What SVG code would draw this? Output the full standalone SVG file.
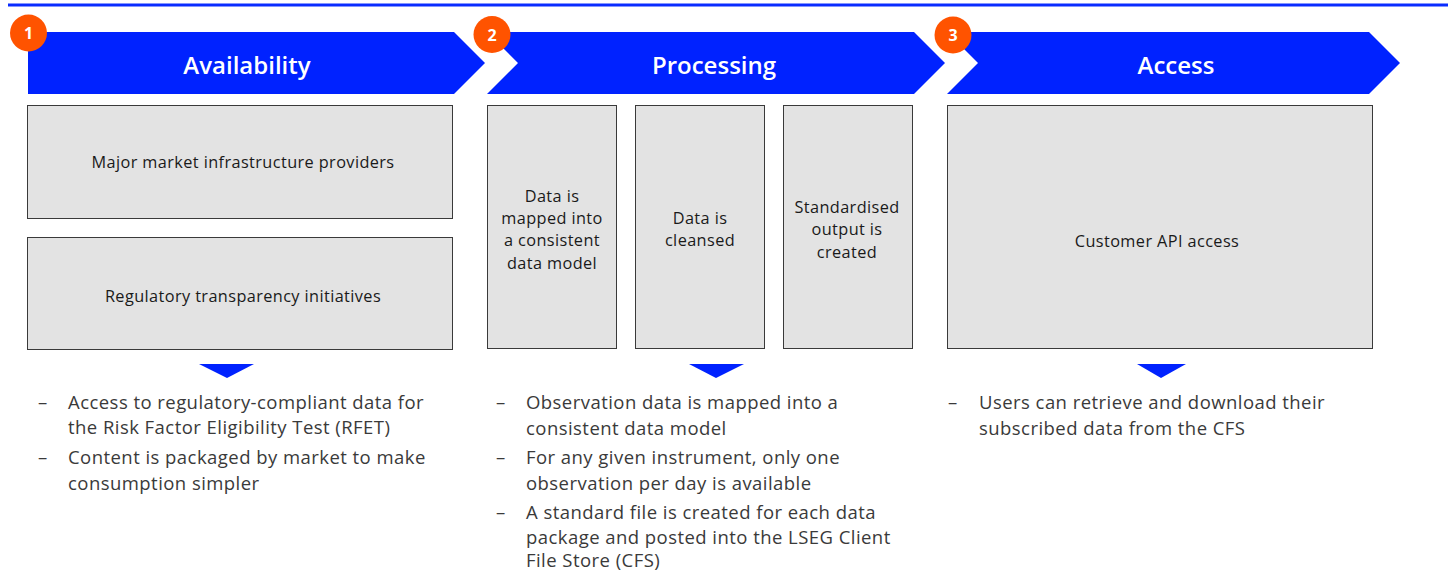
<svg xmlns="http://www.w3.org/2000/svg" width="1448" height="572" viewBox="0 0 1448 572">
<style>
.chev{fill:#0022ff}
.badge{fill:#ff5300}
.num{font-family:"Open Sans",Lato,sans-serif;font-weight:bold;font-size:16px;fill:#fff;text-anchor:middle}
.title{font-family:"Open Sans",Lato,sans-serif;font-weight:600;font-size:24px;fill:#fff;text-anchor:middle}
.box{fill:#e3e3e3;stroke:#3a3a3a;stroke-width:1}
.bt{font-family:"Open Sans",Lato,sans-serif;font-size:16.3px;letter-spacing:0.4px;fill:#1a1a1a;text-anchor:middle}
.tri{fill:#0022ff}
.bl{font-family:"Open Sans",Lato,sans-serif;font-size:18.5px;letter-spacing:0.45px;fill:#3a3a3a}
</style>
<rect x="8" y="3.5" width="1440" height="3" fill="#0a2cff"/>
<g id="stage1">
<polygon class="chev" points="28,32 454,32 485,63 454,94 28,94"/>
<text class="title" x="247" y="74">Availability</text>
<circle class="badge" cx="28.5" cy="33" r="18.5"/>
<text class="num" x="28.5" y="39">1</text>
</g>
<g id="stage2">
<polygon class="chev" points="487,32 914,32 945,63 914,94 487,94 518,63"/>
<text class="title" x="714" y="74">Processing</text>
<circle class="badge" cx="492" cy="34.5" r="18.5"/>
<text class="num" x="492" y="40.5">2</text>
</g>
<g id="stage3">
<polygon class="chev" points="947,32 1369,32 1400,63 1369,94 947,94 978,63"/>
<text class="title" x="1176" y="74">Access</text>
<circle class="badge" cx="953" cy="35" r="18.5"/>
<text class="num" x="953" y="41">3</text>
</g>
<g id="box-major">
<rect class="box" x="27.5" y="105.5" width="425" height="113"/>
<text class="bt" x="243" y="168">Major market infrastructure providers</text>
</g>
<g id="box-regulatory">
<rect class="box" x="27.5" y="237.5" width="425" height="112"/>
<text class="bt" x="243" y="302">Regulatory transparency initiatives</text>
</g>
<g id="box-mapped">
<rect class="box" x="487.5" y="105.5" width="129" height="243"/>
<text class="bt" x="552"><tspan x="552" y="202">Data is</tspan><tspan x="552" y="224">mapped into</tspan><tspan x="552" y="246">a consistent</tspan><tspan x="552" y="269">data model</tspan></text>
</g>
<g id="box-cleansed">
<rect class="box" x="635.5" y="105.5" width="129" height="243"/>
<text class="bt" x="700"><tspan x="700" y="224">Data is</tspan><tspan x="700" y="246">cleansed</tspan></text>
</g>
<g id="box-output">
<rect class="box" x="783.5" y="105.5" width="129" height="243"/>
<text class="bt" x="847"><tspan x="847" y="213">Standardised</tspan><tspan x="847" y="235">output is</tspan><tspan x="847" y="258">created</tspan></text>
</g>
<g id="box-api">
<rect class="box" x="947.5" y="105.5" width="425" height="243"/>
<text class="bt" x="1157" y="247">Customer API access</text>
</g>
<g id="connectors">
<polygon class="tri" points="199,364 254,364 227,378"/>
<polygon class="tri" points="689,364 744,364 716,378"/>
<polygon class="tri" points="1137,364 1186,364 1161,378"/>
</g>
<g id="notes1" class="bl">
<text x="38" y="409">–</text><text x="68" y="409">Access to regulatory-compliant data for</text>
<text x="68" y="434">the Risk Factor Eligibility Test (RFET)</text>
<text x="38" y="464">–</text><text x="68" y="464">Content is packaged by market to make</text>
<text x="68" y="490">consumption simpler</text>
</g>
<g id="notes2" class="bl">
<text x="496" y="409">–</text><text x="526" y="409">Observation data is mapped into a</text>
<text x="526" y="435">consistent data model</text>
<text x="496" y="464">–</text><text x="526" y="464">For any given instrument, only one</text>
<text x="526" y="490">observation per day is available</text>
<text x="496" y="519">–</text><text x="526" y="519">A standard file is created for each data</text>
<text x="526" y="544">package and posted into the LSEG Client</text>
<text x="526" y="567">File Store (CFS)</text>
</g>
<g id="notes3" class="bl">
<text x="948" y="409">–</text><text x="979" y="409">Users can retrieve and download their</text>
<text x="979" y="435">subscribed data from the CFS</text>
</g>
</svg>
